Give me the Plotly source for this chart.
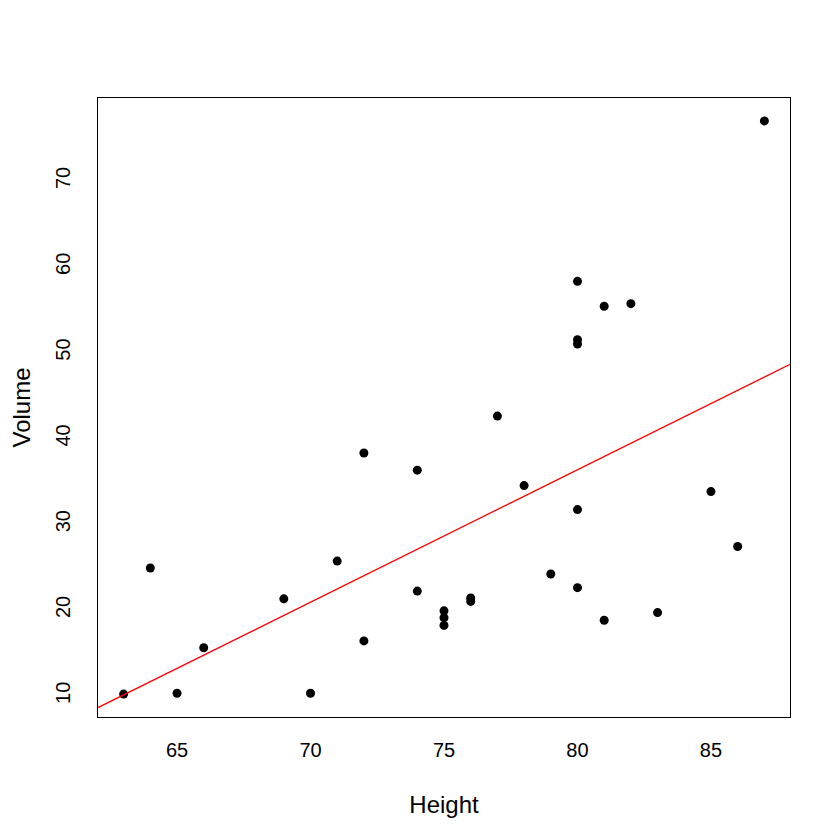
import numpy as np
import plotly.graph_objects as go

height = [70, 65, 63, 72, 81, 83, 66, 75, 80, 75, 79, 76, 76, 69, 75, 74, 85, 86,
          71, 64, 78, 80, 74, 72, 77, 81, 82, 80, 80, 80, 87]
volume = [10.3, 10.3, 10.2, 16.4, 18.8, 19.7, 15.6, 18.2, 22.6, 19.9, 24.2, 21.0,
          21.4, 21.3, 19.1, 22.2, 33.8, 27.4, 25.7, 24.9, 34.5, 31.7, 36.3, 38.3,
          42.6, 55.4, 55.7, 58.3, 51.5, 51.0, 77.0]
x_ticks = [65, 70, 75, 80, 85]
y_ticks = [10, 20, 30, 40, 50, 60, 70]

slope, intercept = np.polyfit(height, volume, 1)
xmin, xmax = min(height), max(height)
ymin, ymax = min(volume), max(volume)
xr = [xmin - 0.04 * (xmax - xmin), xmax + 0.04 * (xmax - xmin)]
yr = [ymin - 0.04 * (ymax - ymin), ymax + 0.04 * (ymax - ymin)]
line_x = np.array(xr)
line_y = intercept + slope * line_x

font = "Liberation Sans, Arial, sans-serif"
ML, MR, MT, MB = 90, 58, 90, 131
PW, PH = 840 - ML - MR, 840 - MT - MB
TICK = 12

# tick marks drawn as line markers just outside the plotting box
xt_y = yr[0] - (TICK / 2) / PH * (yr[1] - yr[0])
yt_x = xr[0] - (TICK / 2) / PW * (xr[1] - xr[0])

fig = go.Figure()
fig.add_trace(go.Scatter(x=height, y=volume, mode="markers",
                         marker=dict(color="black", size=9), showlegend=False))
fig.add_trace(go.Scatter(x=line_x, y=line_y, mode="lines",
                         line=dict(color="red", width=1.3), showlegend=False))
fig.add_trace(go.Scatter(x=x_ticks, y=[xt_y] * len(x_ticks), mode="markers",
                         cliponaxis=False, hoverinfo="skip", showlegend=False,
                         marker=dict(symbol="line-ns", size=TICK, color="black",
                                     line=dict(color="black", width=1.3))))
fig.add_trace(go.Scatter(x=[yt_x] * len(y_ticks), y=y_ticks, mode="markers",
                         cliponaxis=False, hoverinfo="skip", showlegend=False,
                         marker=dict(symbol="line-ew", size=TICK, color="black",
                                     line=dict(color="black", width=1.3))))

fig.update_layout(
    template="none",
    width=840, height=840,
    margin=dict(l=ML, r=MR, t=MT, b=MB, autoexpand=False),
    paper_bgcolor="white", plot_bgcolor="white",
    font=dict(family=font, size=20, color="black"),
)
common = dict(ticks="outside", tickcolor="rgba(0,0,0,0)", tickwidth=1,
              tickfont=dict(family=font, size=20, color="black"),
              showgrid=False, zeroline=False, showline=True, mirror=True,
              linecolor="black", linewidth=1.3, automargin=False)
fig.update_xaxes(range=xr, tickvals=x_ticks, ticklen=15,
                 title=dict(text="Height", standoff=36), **common)
fig.update_yaxes(range=yr, tickvals=y_ticks, tickangle=-90, ticklen=19,
                 title=dict(text="Volume", standoff=26), **common)

fig.write_html("out.html")
